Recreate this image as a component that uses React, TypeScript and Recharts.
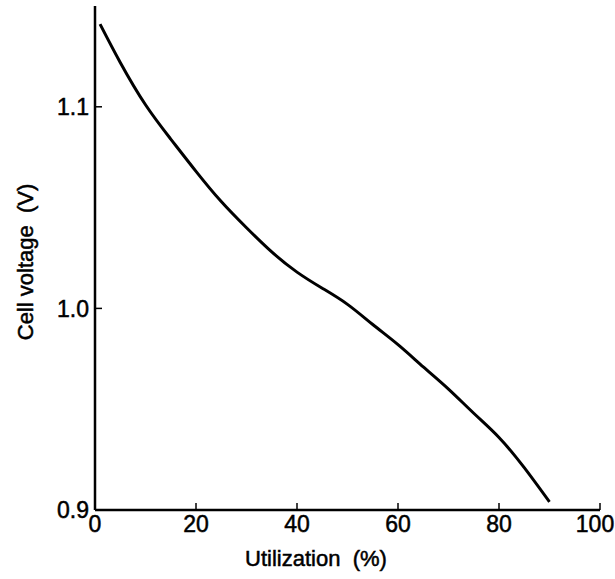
import { LineChart, Line, XAxis, YAxis } from 'recharts';

const utilization = [1, 5, 10, 15, 20, 25, 30, 35, 40, 45, 50, 55, 60, 65, 70, 75, 80, 85, 90];
const voltage = [1.141, 1.122, 1.101, 1.084, 1.068, 1.053, 1.040, 1.028, 1.018, 1.010, 1.002, 0.992, 0.982, 0.971, 0.960, 0.948, 0.936, 0.921, 0.904];
const xTicks = [0, 20, 40, 60, 80, 100];
const yTicks = [0.9, 1.0, 1.1];

const data = utilization.map((u, i) => ({ u, v: voltage[i] }));

const FONT = '"Liberation Sans", Arial, Helvetica, sans-serif';
const textStyle = { fill: '#000', stroke: '#000', strokeWidth: 0.5, fontFamily: FONT };
const tickStyle = { ...textStyle, fontSize: 23 };

// x tick label; the last one ("100") sits a little left so it stays on the page
const XTick = (props: any) => {
  const { x, y, payload } = props;
  const shift = payload.value === 100 ? -5 : 0;
  return (
    <text x={x + shift} y={y} dy="0.71em" textAnchor="middle" {...tickStyle}>
      {payload.value}
    </text>
  );
};

export default function App() {
  return (
    <div style={{ position: 'absolute', left: 0, top: 0, background: '#fff' }}>
      <LineChart width={615} height={579} data={data} margin={{ top: 6, right: 15, bottom: 0, left: 0 }}>
        <XAxis
          dataKey="u"
          type="number"
          domain={[0, 100]}
          ticks={xTicks}
          height={69}
          axisLine={{ stroke: '#000', strokeWidth: 2.5 }}
          tickLine={{ stroke: '#000', strokeWidth: 1.5 }}
          tickSize={-7}
          tickMargin={13}
          tick={<XTick />}
          interval={0}
          label={{
            content: () => (
              <text x={316} y={566} textAnchor="middle" fontSize={22} {...textStyle}>
                Utilization{'\u00a0\u00a0'}(%)
              </text>
            ),
          }}
        />
        <YAxis
          dataKey="v"
          type="number"
          domain={[0.9, 1.15]}
          ticks={yTicks}
          width={95}
          axisLine={{ stroke: '#000', strokeWidth: 2.5 }}
          tickLine={{ stroke: '#000', strokeWidth: 1.5 }}
          tickSize={-7}
          tickMargin={13}
          tick={tickStyle}
          tickFormatter={(t: number) => t.toFixed(1)}
          interval={0}
          label={{
            content: () => (
              <text
                x={25}
                y={262}
                transform="rotate(-90 25 262)"
                textAnchor="middle"
                dominantBaseline="central"
                fontSize={22}
                {...textStyle}
              >
                Cell voltage{'\u00a0\u00a0'}(V)
              </text>
            ),
          }}
        />
        <Line
          type="natural"
          dataKey="v"
          stroke="#000"
          strokeWidth={3}
          dot={false}
          isAnimationActive={false}
        />
      </LineChart>
    </div>
  );
}
